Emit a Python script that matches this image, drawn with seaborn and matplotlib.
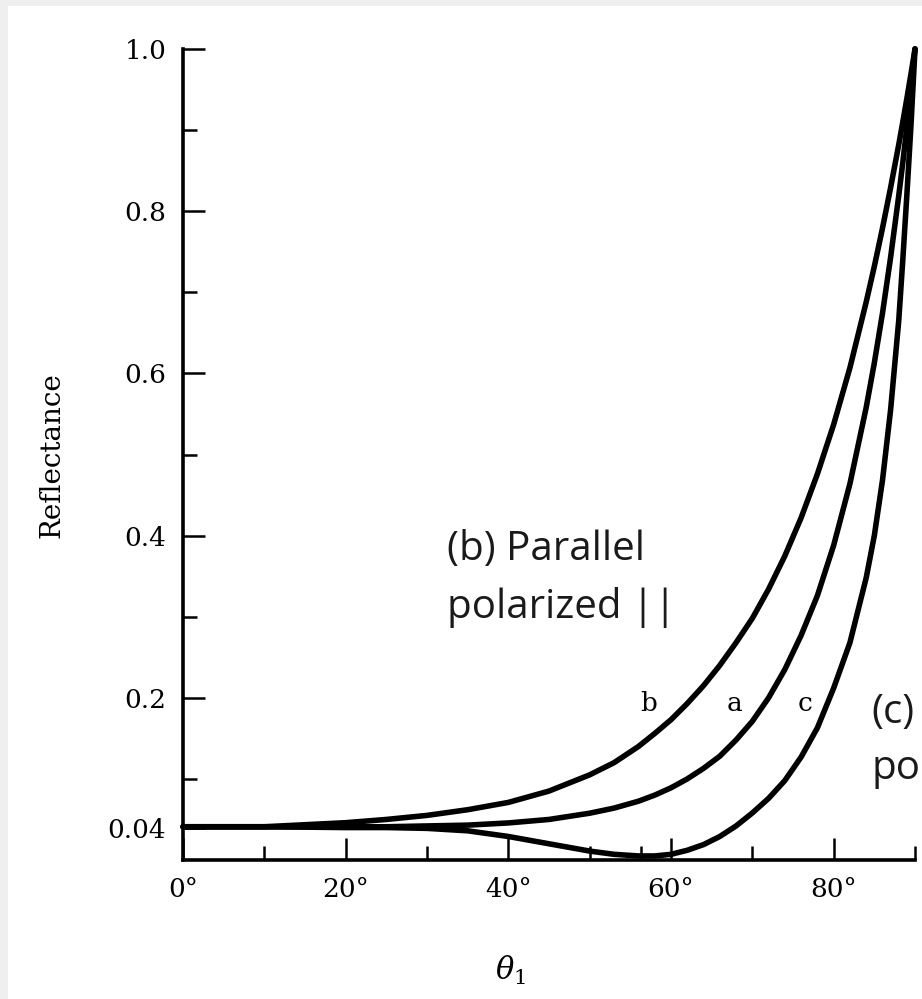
import matplotlib
matplotlib.use("Agg")
import matplotlib.pyplot as plt
from matplotlib.patches import Rectangle
import numpy as np
import pandas as pd
import seaborn as sns

# ---- data ----
angles = [0, 10, 20, 25, 30, 35, 40, 45, 50, 53, 56, 58, 60, 62, 64, 66, 68,
          70, 72, 74, 76, 78, 80, 82, 84, 85, 86, 87, 88, 88.5, 89, 89.5, 90]

curve_b = [0.041, 0.041, 0.046, 0.050, 0.055, 0.062, 0.071, 0.085, 0.105, 0.120,
           0.140, 0.156, 0.173, 0.193, 0.215, 0.240, 0.268, 0.298, 0.334, 0.375,
           0.422, 0.476, 0.537, 0.607, 0.688, 0.732, 0.779, 0.829, 0.882, 0.910,
           0.939, 0.969, 1.000]

curve_a = [0.041, 0.041, 0.041, 0.041, 0.042, 0.043, 0.0457, 0.050, 0.0577, 0.064,
           0.0725, 0.080, 0.089, 0.100, 0.113, 0.128, 0.148, 0.171, 0.200, 0.235,
           0.277, 0.326, 0.388, 0.464, 0.558, 0.613, 0.674, 0.743, 0.819, 0.860,
           0.904, 0.951, 1.000]

curve_c = [0.041, 0.041, 0.040, 0.040, 0.039, 0.036, 0.029, 0.020, 0.011, 0.007,
           0.005, 0.005, 0.007, 0.012, 0.019, 0.029, 0.042, 0.058, 0.076, 0.098,
           0.127, 0.163, 0.212, 0.268, 0.348, 0.400, 0.468, 0.555, 0.665, 0.740,
           0.820, 0.905, 1.000]

curve_names = ["b", "a", "c"]
curve_label_x = [57.2, 67.8, 76.5]

x_major = [0, 20, 40, 60, 80]
x_major_labels = ["0°", "20°", "40°", "60°", "80°"]
x_minor = [10, 30, 50, 56.3, 70, 90]
y_major = [0.04, 0.2, 0.4, 0.6, 0.8, 1.0]
y_major_labels = ["0.04", "0.2", "0.4", "0.6", "0.8", "1.0"]
y_minor = [0.1, 0.3, 0.5, 0.7, 0.9]

# annotation text as visible in the reference (the (c) note is cut by the image edge)
note_b = ["(b) Parallel", "polarized ||"]
note_c = ["(c)", "po"]

df = pd.DataFrame({
    "angle": angles * 3,
    "R": curve_b + curve_a + curve_c,
    "curve": ["b"] * len(angles) + ["a"] * len(angles) + ["c"] * len(angles),
})

# ---- style ----
sns.set_theme(style="ticks")
plt.rcParams["font.family"] = ["DejaVu Serif"]
plt.rcParams["mathtext.fontset"] = "dejavuserif"

W, H = 922, 999
fig = plt.figure(figsize=(W / 100, H / 100), dpi=100)
fig.patch.set_facecolor("white")
fig.patches.append(Rectangle((0, 0), 8 / W, 1, transform=fig.transFigure,
                             facecolor="#efefef", edgecolor="none", zorder=0))
fig.patches.append(Rectangle((0, 1 - 6 / H), 1, 6 / H, transform=fig.transFigure,
                             facecolor="#efefef", edgecolor="none", zorder=0))

ax = fig.add_axes([183 / W, 139 / H, 732 / W, 811 / H])
ax.set_facecolor("none")

sns.lineplot(data=df, x="angle", y="R", hue="curve",
             palette={"a": "black", "b": "black", "c": "black"},
             legend=False, estimator=None, sort=False, ax=ax,
             linewidth=4.0, clip_on=False, solid_capstyle="round")

ax.set_xlim(0, 90)
ax.set_ylim(0, 1.0)
sns.despine(ax=ax)
for s in ["left", "bottom"]:
    ax.spines[s].set_linewidth(2.6)
    ax.spines[s].set_color("black")

ax.set_xticks(x_major)
ax.set_xticklabels(x_major_labels)
ax.set_xticks(x_minor, minor=True)
ax.set_yticks(y_major)
ax.set_yticklabels(y_major_labels)
ax.set_yticks(y_minor, minor=True)
ax.tick_params(axis="both", which="both", direction="in", color="black",
               width=1.8, labelsize=19, labelcolor="black")
ax.tick_params(axis="both", which="major", length=16)
ax.tick_params(axis="both", which="minor", length=10)
ax.tick_params(axis="x", which="major", pad=12)
ax.tick_params(axis="y", which="major", pad=12)

ax.set_xlabel(r"$\theta_1$", fontsize=22, color="black")
ax.xaxis.label.set_va("center")
ax.xaxis.set_label_coords(0.447, -0.1356)
ax.set_ylabel("Reflectance", fontsize=20, color="black")
ax.yaxis.label.set_va("center")
ax.yaxis.set_label_coords(-0.179, 0.4994)

for name, lx in zip(curve_names, curve_label_x):
    ax.text(lx, 0.184, name, fontsize=19, ha="center", va="baseline", color="black")

ann = dict(fontsize=29, family=["Open Sans", "DejaVu Sans"], fontweight="normal",
           color="#1a1a1a", ha="left", va="baseline", clip_on=False)
ax.text(32.46, 0.370, note_b[0], **ann)
ax.text(32.46, 0.298, note_b[1], **ann)
ax.text(84.6, 0.169, note_c[0], **ann)
ax.text(84.6, 0.0999, note_c[1], **ann)

fig.savefig("out.png", dpi=100, facecolor=fig.get_facecolor())
